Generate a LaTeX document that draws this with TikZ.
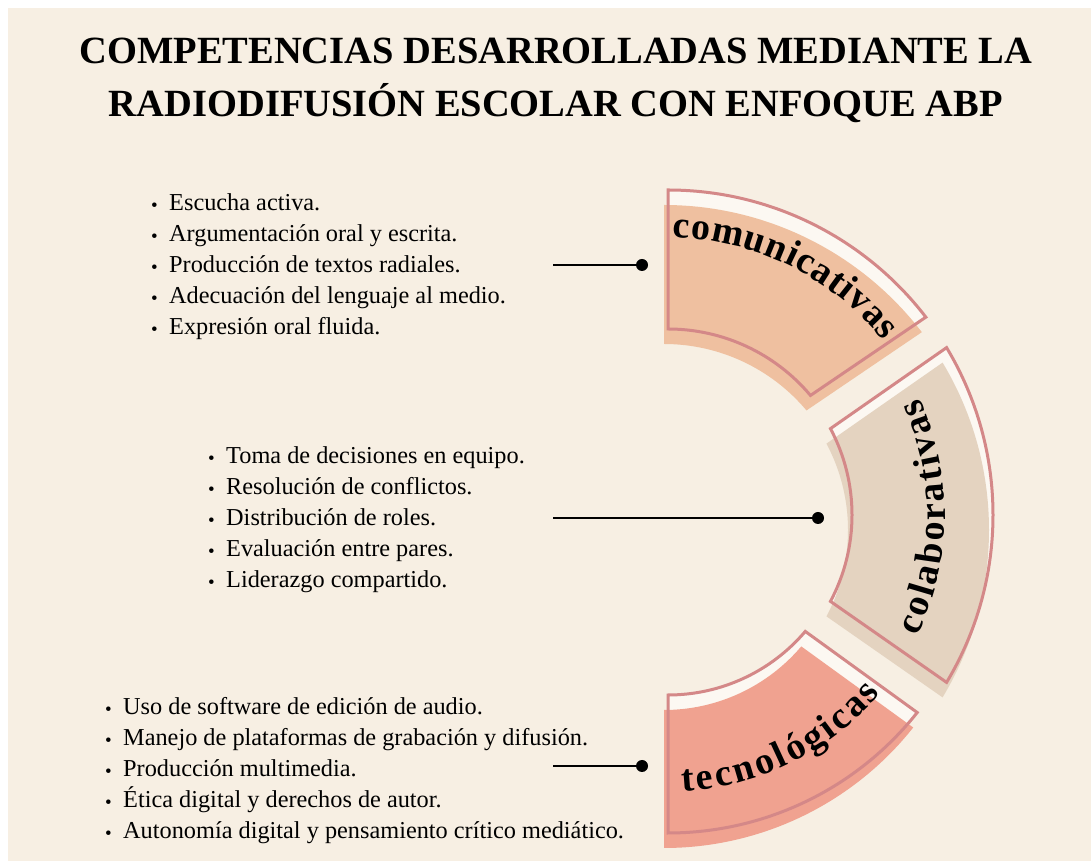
\documentclass[tikz,border=0pt]{standalone}
\usepackage{fontspec}
\setmainfont{Liberation Serif}
\usepackage{tikz}
\usetikzlibrary{calc,positioning,decorations.text}

\definecolor{paper}{RGB}{247,239,227}
\definecolor{inner}{RGB}{252,248,242}
\definecolor{rimcol}{RGB}{212,136,136}
\definecolor{comcol}{RGB}{239,192,160}
\definecolor{colcol}{RGB}{228,211,192}
\definecolor{teccol}{RGB}{240,162,144}

% outer start, outer end, inner end, inner start, outer radius, inner radius
\newcommand{\ringpart}[6]{([shift={(#1:#5)}]668,346) arc[start angle=#1, end angle=#2, radius=#5pt]
  -- ([shift={(#3:#6)}]668,346) arc[start angle=#3, end angle=#4, radius=#6pt] -- cycle}
\newcommand{\arcfont}{\fontsize{38}{38}\selectfont\bfseries}
\newcommand{\itm}[1]{\makebox[18pt][l]{\raisebox{-0.5pt}{\fontsize{19}{19}\selectfont\textbullet}}#1}

\begin{document}
\begin{tikzpicture}[x=1pt, y=1pt,
    title/.style={font=\fontsize{38.5}{53}\selectfont\bfseries, align=center},
    itemlist/.style={anchor=west, align=left, inner sep=0pt, font=\fontsize{24.3}{31}\selectfont},
    dot/.style={circle, fill=black, inner sep=0pt, minimum size=12pt},
    link/.style={line width=2.7pt},
    rim/.style={draw=rimcol, line width=3pt, line join=miter},
    shade/.style={shift={(-4,-15)}},
    arctext/.style={decorate, decoration={text along path, text align=fit to path, text={|\arcfont|#1}}}]
   \fill[white] (0,0) rectangle (1091,861);
   \fill[paper] (8,0) rectangle (1091,853);

   \node[title] (title) at (556,781) {COMPETENCIAS DESARROLLADAS MEDIANTE LA\\RADIODIFUSIÓN ESCOLAR CON ENFOQUE ABP};

   % comunicativas
   \fill[inner] \ringpart{90}{37.5}{40}{90}{325}{186};
   \fill[comcol, shade] \ringpart{90}{37.5}{40}{90}{325}{186};
   \draw[rim] \ringpart{90}{37.5}{40}{90}{325}{186};
   \path[arctext=comunicativas] ([shift={(89:277)}]668,346) arc[start angle=89, end angle=39, radius=277pt];

   % colaborativas
   \fill[inner] \ringpart{31}{-31}{-28}{28}{325}{184};
   \fill[colcol, shade] \ringpart{31}{-31}{-28}{28}{325}{184};
   \draw[rim] \ringpart{31}{-31}{-28}{28}{325}{184};
   \path[arctext=colaborativas] ([shift={(-26:277)}]668,346) arc[start angle=-26, end angle=25, radius=277pt];

   % tecnologicas
   \fill[inner] \ringpart{-38.4}{-90}{-90}{-40.3}{318}{180};
   \fill[teccol, shade] \ringpart{-38.4}{-90}{-90}{-40.3}{318}{180};
   \draw[rim] \ringpart{-38.4}{-90}{-90}{-40.3}{318}{180};
   \path[arctext=tecnológicas] ([shift={(-87:277)}]668,346) arc[start angle=-87, end angle=-40, radius=277pt];

   \node[itemlist] (comlist) at (151,594) {\itm{Escucha activa.}\\\itm{Argumentación oral y escrita.}\\\itm{Producción de textos radiales.}\\\itm{Adecuación del lenguaje al medio.}\\\itm{Expresión oral fluida.}};
   \node[itemlist] (collist) at (208,341) {\itm{Toma de decisiones en equipo.}\\\itm{Resolución de conflictos.}\\\itm{Distribución de roles.}\\\itm{Evaluación entre pares.}\\\itm{Liderazgo compartido.}};
   \node[itemlist] (teclist) at (105,90) {\itm{Uso de software de edición de audio.}\\\itm{Manejo de plataformas de grabación y difusión.}\\\itm{Producción multimedia.}\\\itm{Ética digital y derechos de autor.}\\\itm{Autonomía digital y pensamiento crítico mediático.}};

   \node[dot] (comdot) at (642,596) {};
   \node[dot] (coldot) at (818,343) {};
   \node[dot] (tecdot) at (642,95) {};
   \coordinate (comend) at (553,596);
   \coordinate (colend) at (553,343);
   \coordinate (tecend) at (553,95);

   \draw[link] (comend) -- (comdot);
   \draw[link] (colend) -- (coldot);
   \draw[link] (tecend) -- (tecdot);
\end{tikzpicture}
\end{document}
